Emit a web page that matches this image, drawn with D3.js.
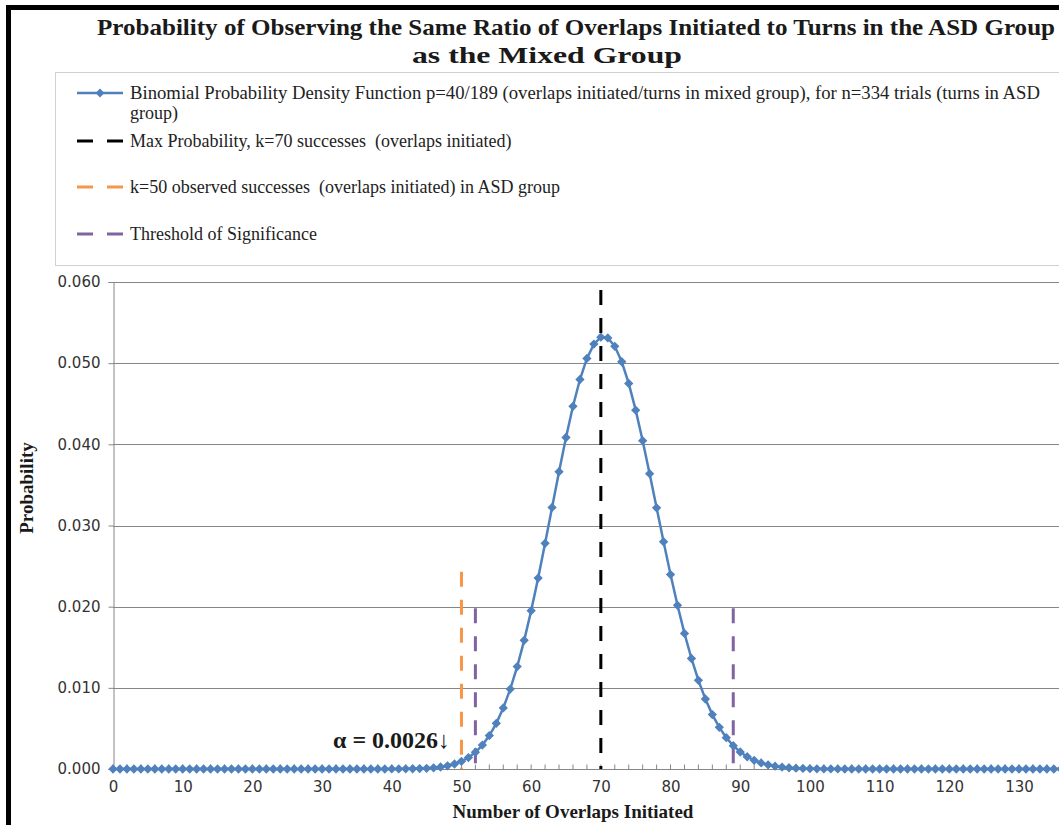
<!DOCTYPE html>
<html>
<head>
<meta charset="utf-8">
<script src="https://cdn.jsdelivr.net/npm/d3@7"></script>
<style>
  body { margin: 0; background: #fff; }
  svg { display: block; }
  .serif { font-family: 'Liberation Serif', 'Times New Roman', serif; }
</style>
</head>
<body>
<div id="chart"></div>
<script>
// Binomial probabilities, index = number of overlaps initiated (k = 0..136)
const probabilities = [
  0, 0, 0, 0, 0, 0, 0, 0, 0, 0,
  0, 0, 0, 0, 0, 0, 0, 0, 0, 0,
  0, 0, 0, 0, 0, 0, 0, 0, 0, 0,
  0, 0, 0, 0, 0, 0, 0, 0, 0, 0,
  0.000004, 0.000008, 0.000016, 0.000029, 0.000051, 0.000088, 0.000149, 0.000245, 0.000394, 0.000617,
  0.000944, 0.001411, 0.002062, 0.002945, 0.004114, 0.005622, 0.007519, 0.009845, 0.012622, 0.015851,
  0.019503, 0.023517, 0.027799, 0.032220, 0.036626, 0.040842, 0.044687, 0.047986, 0.050581, 0.052347,
  0.053200, 0.053105, 0.052076, 0.050175, 0.047508, 0.044213, 0.040449, 0.036384, 0.032183, 0.027997,
  0.023957, 0.020168, 0.016705, 0.013616, 0.010922, 0.008624, 0.006703, 0.005130, 0.003865, 0.002868,
  0.002096, 0.001509, 0.001070, 0.000747, 0.000514, 0.000349, 0.000233, 0.000153, 0.000099, 0.000064,
  0.000040, 0.000025, 0.000015, 0.000009, 0.000005, 0, 0, 0, 0, 0,
  0, 0, 0, 0, 0, 0, 0, 0, 0, 0,
  0, 0, 0, 0, 0, 0, 0, 0, 0, 0,
  0, 0, 0, 0, 0, 0, 0
];

// reference lines: k position and top value
const maxLine = { k: 70, top: 0.0590 };
const observedLine = { k: 50, top: 0.0243 };
const thresholdLines = [{ k: 52, top: 0.0198 }, { k: 89, top: 0.0198 }];

const yTicks = [0, 0.01, 0.02, 0.03, 0.04, 0.05, 0.06];
const xTicks = [0, 10, 20, 30, 40, 50, 60, 70, 80, 90, 100, 110, 120, 130];

const titleLines = [
  "Probability of Observing the Same Ratio of Overlaps Initiated to Turns in the ASD Group",
  "as the Mixed Group"
];
const legendLabels = [
  ["Binomial Probability Density Function p=40/189 (overlaps initiated/turns in mixed group), for n=334 trials (turns in ASD", "group)"],
  ["Max Probability, k=70 successes  (overlaps initiated)"],
  ["k=50 observed successes  (overlaps initiated) in ASD group"],
  ["Threshold of Significance"]
];

const colors = { series: "#4f81bd", max: "#000000", observed: "#f79646", threshold: "#8064a2", grid: "#868686" };

const W = 1059, H = 825;
const svg = d3.select("#chart").append("svg").attr("width", W).attr("height", H);

// outer black frame (left and top edges are visible)
svg.append("path")
  .attr("d", "M8.5,830 L8.5,7.5 L1070,7.5")
  .attr("fill", "none").attr("stroke", "#000").attr("stroke-width", 5);

// title
svg.append("text").attr("class", "serif")
  .attr("x", 97).attr("y", 35)
  .attr("font-size", 24).attr("font-weight", "bold").attr("fill", "#1a1a1a")
  .attr("textLength", 958).attr("lengthAdjust", "spacingAndGlyphs")
  .text(titleLines[0]);
svg.append("text").attr("class", "serif")
  .attr("x", 412).attr("y", 63)
  .attr("font-size", 24).attr("font-weight", "bold").attr("fill", "#1a1a1a")
  .attr("textLength", 270).attr("lengthAdjust", "spacingAndGlyphs")
  .text(titleLines[1]);

// legend
const legend = svg.append("g");
legend.append("rect")
  .attr("x", 55.5).attr("y", 72.5).attr("width", 1010).attr("height", 193)
  .attr("fill", "#fff").attr("stroke", "#d0d0d0");

const legendY = [93, 141, 187, 234];
const symX0 = 77, symX1 = 123, textX = 130;

// series symbol
legend.append("line").attr("x1", symX0).attr("x2", symX1).attr("y1", legendY[0]).attr("y2", legendY[0])
  .attr("stroke", colors.series).attr("stroke-width", 2.5);
legend.append("path").attr("d", d3.symbol(d3.symbolDiamond2, 50)())
  .attr("transform", `translate(${(symX0 + symX1) / 2},${legendY[0]})`).attr("fill", colors.series);

[colors.max, colors.observed, colors.threshold].forEach((c, i) => {
  legend.append("line").attr("x1", symX0).attr("x2", symX1).attr("y1", legendY[i + 1]).attr("y2", legendY[i + 1])
    .attr("stroke", c).attr("stroke-width", 3).attr("stroke-dasharray", "16,14");
});

legendLabels.forEach((lines, i) => {
  lines.forEach((t, j) => {
    const txt = legend.append("text").attr("class", "serif")
      .attr("x", textX).attr("y", legendY[i] + 6 + j * 20)
      .attr("font-size", 18).attr("fill", "#222")
      .style("white-space", "pre")
      .text(t);
    if (i === 0 && j === 0) txt.attr("textLength", 910).attr("lengthAdjust", "spacingAndGlyphs");
  });
});

// scales
const x = d3.scaleLinear().domain([0, 130]).range([113, 1019]);
const y = d3.scaleLinear().domain([0, 0.06]).range([769, 282]);

// grid lines
svg.append("g").selectAll("line").data(yTicks).join("line")
  .attr("x1", 113).attr("x2", W).attr("y1", d => Math.round(y(d)) + 0.5).attr("y2", d => Math.round(y(d)) + 0.5)
  .attr("stroke", colors.grid).attr("stroke-width", 1);

// y axis
const yAxis = svg.append("g").attr("transform", "translate(113.5,0)")
  .call(d3.axisLeft(y).tickValues(yTicks).tickFormat(d3.format(".3f")).tickSize(5).tickPadding(8));
yAxis.attr("font-size", 15).attr("font-family", "'DejaVu Sans', Verdana, sans-serif");
yAxis.select(".domain").attr("stroke", colors.grid);
yAxis.selectAll(".tick line").attr("stroke", colors.grid);
yAxis.selectAll(".tick text").attr("fill", "#333");

// x axis
const xAxis = svg.append("g").attr("transform", "translate(0,769.5)")
  .call(d3.axisBottom(x).tickValues(xTicks).tickFormat(d3.format("d")).tickSize(0).tickPadding(12));
xAxis.attr("font-size", 15).attr("font-family", "'DejaVu Sans', Verdana, sans-serif");
xAxis.select(".domain").remove();
xAxis.append("line").attr("x1", 113).attr("x2", W).attr("stroke", colors.grid);
xAxis.selectAll(".tick text").attr("fill", "#333");
// small tick marks every 2 overlaps
xAxis.append("g").selectAll("line").data(d3.range(0, 138, 2)).join("line")
  .attr("x1", d => x(d)).attr("x2", d => x(d)).attr("y1", -5).attr("y2", 0)
  .attr("stroke", colors.grid);

// axis titles
svg.append("text").attr("class", "serif")
  .attr("x", 573).attr("y", 818).attr("text-anchor", "middle")
  .attr("font-size", 19).attr("font-weight", "bold").attr("fill", "#1a1a1a")
  .text("Number of Overlaps Initiated");
svg.append("text").attr("class", "serif")
  .attr("transform", "translate(33,488) rotate(-90)").attr("text-anchor", "middle")
  .attr("font-size", 19).attr("font-weight", "bold").attr("fill", "#1a1a1a")
  .text("Probability");

// vertical reference lines (drawn from top down so dashes start at the top)
function vline(d, color) {
  svg.append("line")
    .attr("x1", x(d.k)).attr("x2", x(d.k)).attr("y1", y(d.top)).attr("y2", y(0))
    .attr("stroke", color).attr("stroke-width", 3).attr("stroke-dasharray", "15,13");
}
vline(observedLine, colors.observed);
thresholdLines.forEach(d => vline(d, colors.threshold));

// binomial series
const line = d3.line().x((d, i) => x(i)).y(d => y(d));
svg.append("path").datum(probabilities)
  .attr("fill", "none").attr("stroke", colors.series).attr("stroke-width", 2.5)
  .attr("d", line);
svg.append("g").selectAll("path").data(probabilities).join("path")
  .attr("d", d3.symbol(d3.symbolDiamond2, 55)())
  .attr("transform", (d, i) => `translate(${x(i)},${y(d)})`)
  .attr("fill", colors.series);

vline(maxLine, colors.max);

// alpha annotation
svg.append("text").attr("class", "serif")
  .attr("x", 333).attr("y", 748)
  .attr("font-size", 24).attr("font-weight", "bold").attr("fill", "#1a1a1a")
  .text("α = 0.0026↓");
</script>
</body>
</html>
